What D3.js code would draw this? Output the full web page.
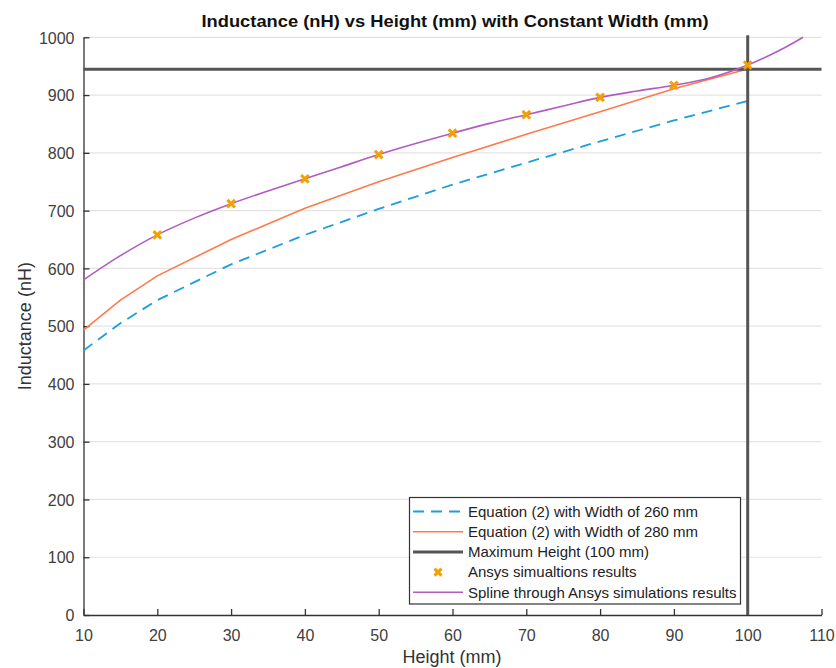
<!DOCTYPE html>
<html>
<head>
<meta charset="utf-8">
<script src="https://cdn.jsdelivr.net/npm/d3@7"></script>
<style>
  body { margin: 0; background: #fff; }
  svg { font-family: Arial, "Liberation Sans", sans-serif; }
</style>
</head>
<body>
<svg id="chart" width="836" height="668"></svg>
<script>
// data
var heights = [10, 15, 20, 30, 40, 50, 60, 70, 80, 90, 100];
var eq260 = [458, 505, 545, 607, 658, 703, 745, 783, 820, 856, 890];
var eq280 = [493, 545, 587, 650, 704, 750, 792, 832, 871, 911, 945];

var ansysH = [20, 30, 40, 50, 60, 70, 80, 90, 100];
var ansysL = [658, 712, 755, 797, 834, 866, 896, 917, 952];

var splineH = [10, 15, 20, 25, 30, 35, 40, 45, 50, 55, 60, 65, 70, 75, 80, 85, 90, 95, 100, 105, 107.5];
var splineL = [580, 622, 658, 687, 712, 734, 755, 776, 797, 816, 834, 851, 866, 881, 896, 907, 917, 930, 952, 982, 1000];

var maxHeight = 100;
var maxInductance = 944.5;

var xTicks = [10, 20, 30, 40, 50, 60, 70, 80, 90, 100, 110];
var yTicks = [0, 100, 200, 300, 400, 500, 600, 700, 800, 900, 1000];

var legendLabels = [
	"Equation (2) with Width of 260 mm",
	"Equation (2) with Width of 280 mm",
	"Maximum Height (100 mm)",
	"Ansys simualtions results",
	"Spline through Ansys simulations results"
];

var C_BLUE = "#1a9fdd", C_ORANGE = "#ff7a4a", C_GRAY = "#555555", C_MARK = "#f5a000", C_PURPLE = "#b05cc0";

var svg = d3.select("#chart");
var pLeft = 83.5, pRight = 821.5, pTop = 37.3, pBottom = 615;

var x = d3.scaleLinear().domain([10, 110]).range([pLeft, pRight]);
var y = d3.scaleLinear().domain([0, 1000]).range([pBottom, pTop]);

// grid lines
svg.append("g").selectAll("line").data(yTicks.slice(1)).enter().append("line")
	.attr("x1", pLeft).attr("x2", pRight)
	.attr("y1", function (d) { return y(d); }).attr("y2", function (d) { return y(d); })
	.attr("stroke", "#e3e3e3").attr("stroke-width", 1.2);

// axes
var xAxis = svg.append("g").attr("transform", "translate(0," + pBottom + ")")
	.call(d3.axisBottom(x).tickValues(xTicks).tickFormat(d3.format("d")).tickSizeInner(-6).tickSizeOuter(0).tickPadding(12));
var yAxis = svg.append("g").attr("transform", "translate(" + pLeft + ",0)")
	.call(d3.axisLeft(y).tickValues(yTicks).tickFormat(d3.format("d")).tickSizeInner(-6).tickSizeOuter(0).tickPadding(9));

[xAxis, yAxis].forEach(function (a) {
	a.select(".domain").attr("stroke", "#333").attr("stroke-width", 1.3);
	a.selectAll(".tick line").attr("stroke", "#333").attr("stroke-width", 1.3);
	a.selectAll(".tick text").attr("fill", "#404040").style("font-size", "16px").style("font-family", "Arial, 'Liberation Sans', sans-serif");
});
xAxis.selectAll(".tick text").attr("dy", "0.9em");
yAxis.selectAll(".tick text").attr("dy", "0.36em");

// series
var line = d3.line().x(function (d) { return x(d[0]); }).y(function (d) { return y(d[1]); });

svg.append("path").datum(d3.zip(heights, eq260)).attr("d", line)
	.attr("fill", "none").attr("stroke", C_BLUE).attr("stroke-width", 1.8).attr("stroke-dasharray", "11,7");
svg.append("path").datum(d3.zip(heights, eq280)).attr("d", line)
	.attr("fill", "none").attr("stroke", C_ORANGE).attr("stroke-width", 1.6);

// max height / inductance lines
svg.append("line").attr("x1", pLeft).attr("x2", pRight)
	.attr("y1", y(maxInductance)).attr("y2", y(maxInductance))
	.attr("stroke", C_GRAY).attr("stroke-width", 3);
svg.append("line").attr("x1", x(maxHeight)).attr("x2", x(maxHeight))
	.attr("y1", pTop - 2).attr("y2", pBottom)
	.attr("stroke", C_GRAY).attr("stroke-width", 3);

svg.append("path").datum(d3.zip(splineH, splineL))
	.attr("d", line.curve(d3.curveCatmullRom))
	.attr("fill", "none").attr("stroke", C_PURPLE).attr("stroke-width", 1.6);

function cross(g, cx, cy, s) {
	g.append("path").attr("d", "M" + (cx - s) + "," + (cy - s) + "L" + (cx + s) + "," + (cy + s) +
		"M" + (cx - s) + "," + (cy + s) + "L" + (cx + s) + "," + (cy - s))
		.attr("stroke", C_MARK).attr("stroke-width", 3).attr("fill", "none");
}
var marks = svg.append("g");
d3.zip(ansysH, ansysL).forEach(function (d) { cross(marks, x(d[0]), y(d[1]), 3.8); });

// legend
var lg = svg.append("g");
lg.append("rect").attr("x", 409.5).attr("y", 497.5).attr("width", 331).attr("height", 106.5)
	.attr("fill", "#fff").attr("stroke", "#333").attr("stroke-width", 1.2);
legendLabels.forEach(function (t, i) {
	var ry = 511.5 + i * 20.2;
	if (i == 3) {
		cross(lg, 438, ry, 3.5);
	} else {
		var st = [C_BLUE, C_ORANGE, C_GRAY, null, C_PURPLE][i];
		var l = lg.append("line").attr("x1", 413).attr("x2", 463).attr("y1", ry).attr("y2", ry)
			.attr("stroke", st).attr("stroke-width", i == 2 ? 3 : (i == 0 ? 1.8 : 1.6));
		if (i == 0) l.attr("stroke-dasharray", "11,7");
	}
	lg.append("text").attr("x", 468).attr("y", ry).attr("dy", "0.35em")
		.style("font-size", "15px").attr("fill", "#222").text(t);
});

// titles
svg.append("text").attr("x", 455).attr("y", 27).attr("text-anchor", "middle")
	.style("font-size", "16px").style("font-weight", "bold").attr("fill", "#111")
	.attr("textLength", 507).attr("lengthAdjust", "spacingAndGlyphs")
	.text("Inductance (nH) vs Height (mm) with Constant Width (mm)");
svg.append("text").attr("x", 452).attr("y", 663).attr("text-anchor", "middle")
	.style("font-size", "18px").attr("fill", "#333").text("Height (mm)");
svg.append("text").attr("transform", "translate(31," + ((pTop + pBottom) / 2) + ") rotate(-90)")
	.attr("text-anchor", "middle").style("font-size", "18px").attr("fill", "#333").text("Inductance (nH)");
</script>
</body>
</html>
